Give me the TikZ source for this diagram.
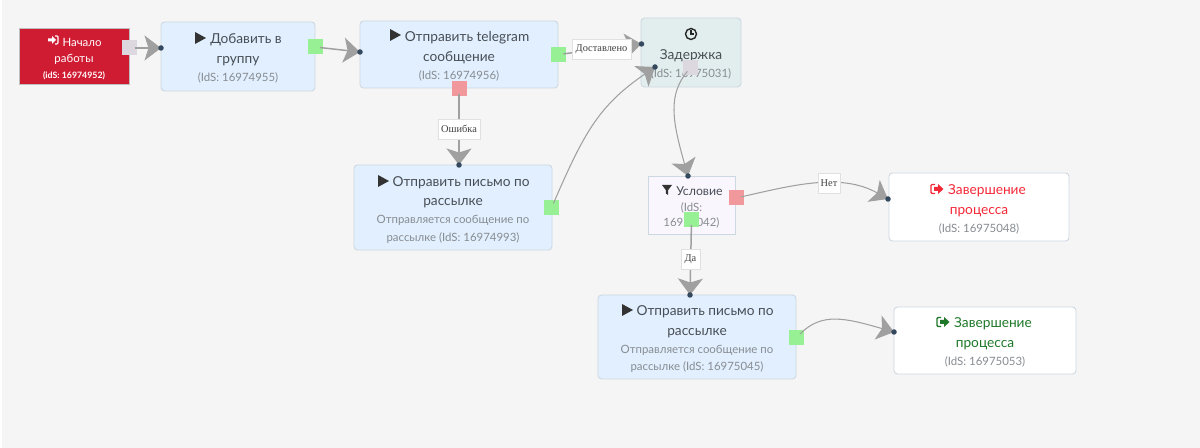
\documentclass[tikz,border=0pt]{standalone}
\usepackage{fontspec}
\setmainfont{Lato}
\newfontfamily\labelfont{Liberation Serif}
\usetikzlibrary{arrows.meta}
\definecolor{pagegray}{RGB}{245, 245, 245}
\definecolor{stepblue}{RGB}{225, 239, 254}
\definecolor{stepedge}{RGB}{205, 215, 225}
\definecolor{startred}{RGB}{208, 28, 51}
\definecolor{delayfill}{RGB}{226, 238, 238}
\definecolor{condfill}{RGB}{250, 246, 254}
\definecolor{portgreen}{RGB}{152, 240, 148}
\definecolor{portred}{RGB}{240, 152, 156}
\definecolor{portgray}{RGB}{221, 216, 224}
\definecolor{titlegray}{RGB}{72, 78, 86}
\definecolor{subgray}{RGB}{135, 140, 146}
\definecolor{wiregray}{RGB}{160, 160, 160}
\definecolor{dotblue}{RGB}{52, 72, 94}
\definecolor{endred}{RGB}{245, 40, 55}
\definecolor{endgreen}{RGB}{30, 120, 40}
\newcommand{\ids}[1]{{\fontsize{6.5}{9.6}\selectfont\color{subgray} #1}}
\newcommand{\gap}{\hspace*{0.32cm}\rule{0pt}{8pt}}
\tikzset{
  stepbox/.style 2 args={draw=stepedge, rounded corners=2pt, line width=0.5pt, fill=stepblue, text=titlegray,
    minimum width=#1*0.02cm, minimum height=#2*0.02cm, align=center, inner sep=0pt,
    font=\fontsize{7.8}{11.3}\selectfont},
  port/.style={minimum size=0.3cm, inner sep=0pt},
  dot/.style={circle, fill=dotblue, minimum size=0.11cm, inner sep=0pt},
  wire/.style={draw=wiregray, line width=0.6pt, shorten <=0.1cm,
    -{Stealth[length=0.33cm, width=0.5cm, inset=0.08cm, fill=wiregray]}},
  wirestraight/.style={wire, line width=0.85pt},
  wirelabel/.style={draw=black!12, fill=white, line width=0.5pt, inner sep=0pt, text=black!75,
    minimum height=0.4cm, font=\labelfont\fontsize{5.9}{7}\selectfont},
  playicon/.pic={\fill[black!80] (0,-6) -- (11,0) -- (0,6) -- cycle;},
  signinicon/.pic={\fill[white] (-5,-1.5) -- (-1,-1.5) -- (-1,-4) -- (3,0) -- (-1,4) -- (-1,1.5) -- (-5,1.5) -- cycle;
    \draw[white, line width=0.6pt] (2,-4) -- (4,-4) -- (5,-3) -- (5,3) -- (4,4) -- (2,4);},
  signouticon/.pic={\draw[line width=0.8pt] (-2,-4.5) -- (-5,-4.5) -- (-6,-3.5) -- (-6,3.5) -- (-5,4.5) -- (-2,4.5);
    \fill (-3,-2) -- (1,-2) -- (1,-5) -- (6.5,0) -- (1,5) -- (1,2) -- (-3,2) -- cycle;},
  clockicon/.pic={\draw[black!85, line width=0.8pt] (0,0) circle (5.5);
    \draw[black!85, line width=0.6pt] (0,-3.5) -- (0,0) -- (2.5,0);},
  filtericon/.pic={\fill[black!80] (-5,-5) -- (5,-5) -- (1.2,0) -- (1.2,5) -- (-1.2,3.5) -- (-1.2,0) -- cycle;}
}
\begin{document}
\begin{tikzpicture}[x=0.02cm, y=-0.02cm]
\useasboundingbox (0,0) rectangle (1200,448);
\fill[white] (0,0) rectangle (1200,448);
\fill[pagegray] (2,0) rectangle (1200,448);

\node[stepbox={110}{56}, fill=startred, draw=black!25, rounded corners=0pt, text=white, font=\fontsize{6.5}{9.5}\selectfont] (start) at (74,56)
  {\gap Начало\\ работы\\[-0.5pt] {\fontsize{5}{7}\selectfont\bfseries (idS: 16974952)}};
\node[stepbox={154}{69}] (add) at (238,56.5)
  {\gap Добавить в\\ группу\\[-1pt] \ids{(IdS: 16974955)}};
\node[stepbox={198}{67}] (telegram) at (459,54.5)
  {\gap Отправить telegram\\ сообщение\\[-1pt] \ids{(IdS: 16974956)}};
\node[stepbox={100}{69}, fill=delayfill] (delay) at (691,52.5)
  {\rule{0pt}{0.26cm}\\ Задержка\\[-1pt] \ids{(IdS: 16975031)}};
\node[stepbox={198}{85}] (mailA) at (453,207.5)
  {\gap Отправить письмо по\\ рассылке\\[-1pt] \ids{Отправляется сообщение по}\\[-1.6pt] \ids{рассылке (IdS: 16974993)}};
\node[stepbox={87}{58}, fill=condfill, rounded corners=0pt, font=\fontsize{7}{9}\selectfont] (cond) at (691.5,205)
  {\gap Условие\\ \ids{(IdS:}\\ \ids{16975042)}};
\node[stepbox={198}{84}] (mailB) at (697,337)
  {\gap Отправить письмо по\\ рассылке\\[-1pt] \ids{Отправляется сообщение по}\\[-1.6pt] \ids{рассылке (IdS: 16975045)}};
\node[stepbox={180}{68}, fill=white, text=endred] (endA) at (979,207)
  {\gap Завершение\\ процесса\\[-1pt] \ids{(IdS: 16975048)}};
\node[stepbox={182}{67}, fill=white, text=endgreen] (endB) at (985,340.5)
  {\gap Завершение\\ процесса\\[-1pt] \ids{(IdS: 16975053)}};

\pic at (53,40) {signinicon};
\pic at (195,38) {playicon};
\pic at (390,35) {playicon};
\pic at (378,181) {playicon};
\pic at (622,310) {playicon};
\pic at (691,34) {clockicon};
\pic at (667,190) {filtericon};
\pic[endred] at (937,189) {signouticon};
\pic[endgreen] at (943,322) {signouticon};

\node[port, fill=portgray] (portStart) at (129.5,48) {};
\node[port, fill=portgreen] (portAdd) at (315,47) {};
\node[port, fill=portgreen] (portSent) at (558.5,54.5) {};
\node[port, fill=portred] (portError) at (459,89) {};
\node[port, fill=portgreen] (portMailA) at (551.5,208) {};
\node[port, fill=portgray] (portDelay) at (690.5,67.5) {};
\node[port, fill=portred] (portNo) at (736,198) {};
\node[port, fill=portgreen] (portYes) at (691.5,220) {};
\node[port, fill=portgreen] (portMailB) at (796.5,337.5) {};

\coordinate (tipAdd) at (161,48);
\coordinate (tipTelegram) at (360,52);
\coordinate (tipDelay) at (641.5,44);
\coordinate (tipDelayB) at (655,67);
\coordinate (tipMailA) at (459,165);
\coordinate (tipCond) at (688,176);
\coordinate (tipMailB) at (690,295);
\coordinate (tipEndA) at (888,199);
\coordinate (tipEndB) at (894,332);

\draw[wirestraight] (portStart.center) -- (tipAdd);
\draw[wirestraight] (portAdd.center) -- (tipTelegram);
\draw[wirestraight] (portSent.center) -- (tipDelay);
\draw[wirestraight] (portError.center) -- (tipMailA);
\draw[wire] (portMailA.center) .. controls (585,130) and (600,105) .. (tipDelayB);
\draw[wire] (portDelay.center) .. controls (668,95) and (672,120) .. (tipCond);
\draw[wire] (portNo.center) .. controls (790,186) and (840,172) .. (tipEndA);
\draw[wirestraight] (portYes.center) -- (tipMailB);
\draw[wire] (portMailB.center) .. controls (822,312) and (845,318) .. (tipEndB);

\node[wirelabel, minimum width=1.18cm] (lblSent) at (601.5,49) {Доставлено};
\node[wirelabel, minimum width=0.84cm] (lblError) at (459,129) {Ошибка};
\node[wirelabel, minimum width=0.44cm] (lblNo) at (829,183.5) {Нет};
\node[wirelabel, minimum width=0.38cm] (lblYes) at (690.5,259) {Да};

\node[dot] (dotAdd) at (tipAdd) {};
\node[dot] (dotTelegram) at (tipTelegram) {};
\node[dot] (dotDelay) at (tipDelay) {};
\node[dot] (dotDelayB) at (tipDelayB) {};
\node[dot] (dotMailA) at (tipMailA) {};
\node[dot] (dotCond) at (tipCond) {};
\node[dot] (dotMailB) at (tipMailB) {};
\node[dot] (dotEndA) at (tipEndA) {};
\node[dot] (dotEndB) at (tipEndB) {};
\end{tikzpicture}
\end{document}
